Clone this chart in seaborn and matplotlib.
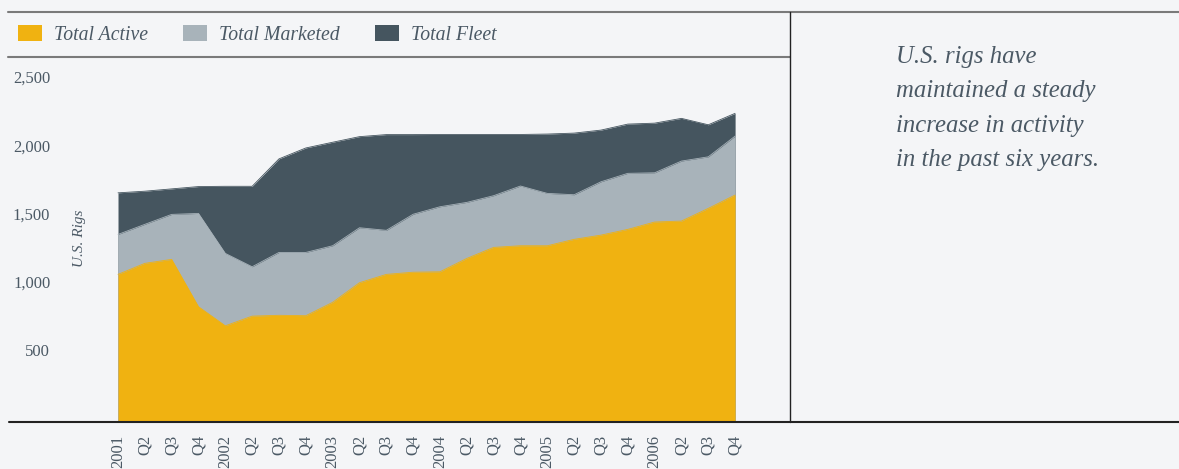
import numpy as np
import pandas as pd
import matplotlib
matplotlib.use('Agg')
import matplotlib.pyplot as plt
import matplotlib.transforms as mtransforms
from matplotlib.lines import Line2D
from matplotlib.patches import Patch
from matplotlib.ticker import FuncFormatter
import seaborn as sns

# quarterly U.S. rig counts, 2001 Q1 .. 2006 Q4
quarters = ['2001', 'Q2', 'Q3', 'Q4',
            '2002', 'Q2', 'Q3', 'Q4',
            '2003', 'Q2', 'Q3', 'Q4',
            '2004', 'Q2', 'Q3', 'Q4',
            '2005', 'Q2', 'Q3', 'Q4',
            '2006', 'Q2', 'Q3', 'Q4']
total_active = [1075, 1156, 1185, 838, 698, 769, 775, 772, 870, 1014, 1075, 1091,
                1094, 1192, 1273, 1285, 1285, 1332, 1363, 1405, 1459, 1466, 1559, 1657]
total_marketed = [1368, 1442, 1515, 1522, 1229, 1131, 1236, 1236, 1285, 1417, 1398, 1516,
                  1571, 1603, 1652, 1723, 1669, 1659, 1754, 1816, 1820, 1906, 1937, 2089]
total_fleet = [1673, 1685, 1702, 1719, 1721, 1721, 1922, 2002, 2044, 2085, 2100, 2100,
               2101, 2101, 2101, 2101, 2104, 2111, 2133, 2177, 2184, 2219, 2172, 2256]

note_lines = ['U.S. rigs have', 'maintained a steady', 'increase in activity', 'in the past six years.']

BG = '#f4f5f7'
TXT = '#4b5965'
palette = {'Total Active': '#f0b211', 'Total Marketed': '#a8b3ba', 'Total Fleet': '#45555f'}

sns.set_theme(style='white')
plt.rcParams['font.family'] = ['Liberation Serif', 'DejaVu Serif']

W, H = 1179, 469
fig = plt.figure(figsize=(W / 100, H / 100), dpi=100, facecolor=BG)
ax = fig.add_axes([60 / W, 1 - 421 / H, 730 / W, 361 / H])
ax.set_facecolor(BG)

df = pd.DataFrame({'q': np.arange(len(quarters)),
                   'Total Active': total_active,
                   'Total Marketed': total_marketed,
                   'Total Fleet': total_fleet})
long = df.melt(id_vars='q', var_name='series', value_name='rigs')

order = ['Total Fleet', 'Total Marketed', 'Total Active']
sns.lineplot(data=long, x='q', y='rigs', hue='series', hue_order=order,
             palette=palette, linewidth=0.6, legend=False, ax=ax)
for i, name in enumerate(order):
    ax.fill_between(df['q'], df[name], 0, color=palette[name], linewidth=0, zorder=1 + 2 * i)
    ax.lines[i].set_zorder(2 + 2 * i)

ax.set_xlim(-2.162, 25.046)
ax.set_ylim(0, 2647)
ax.set_xticks(df['q'])
ax.set_xticklabels(quarters, rotation=90, va='top', ha='center')
ax.set_yticks([500, 1000, 1500, 2000, 2500])
ax.yaxis.set_major_formatter(FuncFormatter(lambda v, p: f'{int(v):,}'))
ax.tick_params(axis='x', length=0, pad=10, labelsize=12, labelcolor=TXT)
ax.tick_params(axis='y', length=0, pad=7, labelsize=12, labelcolor=TXT)
shift = mtransforms.ScaledTranslation(0, 3 / 100, fig.dpi_scale_trans)
for lab in ax.get_yticklabels():
    lab.set_transform(lab.get_transform() + shift)
ax.set_xlabel('')
ax.set_ylabel('')
for s in ax.spines.values():
    s.set_visible(False)
ax.grid(False)

fig.text(80 / W, 1 - 238 / H, 'U.S. Rigs', rotation=90, ha='center', va='center',
         style='italic', fontsize=11, color=TXT)

handles = [Patch(facecolor=palette[n], edgecolor='none', label=n)
           for n in ['Total Active', 'Total Marketed', 'Total Fleet']]
leg = fig.legend(handles=handles, loc='center left', bbox_to_anchor=(18 / W, 1 - 35 / H),
                 ncol=3, frameon=False, borderpad=0, borderaxespad=0,
                 handlelength=1.23, handleheight=0.82, handletextpad=0.62,
                 columnspacing=1.75, prop={'style': 'italic', 'size': 14.2})
for t in leg.get_texts():
    t.set_color(TXT)

for k, line in enumerate(note_lines):
    fig.text(896 / W, 1 - (62.7 + 34.5 * k) / H, line, ha='left', va='baseline',
             style='italic', fontsize=17.8, color=TXT)

# frame rules
fig.add_artist(Line2D([8 / W, 1], [1 - 12 / H] * 2, transform=fig.transFigure, color='#7a7a7a', lw=1.5))
fig.add_artist(Line2D([8 / W, 790 / W], [1 - 57 / H] * 2, transform=fig.transFigure, color='#7a7a7a', lw=1.5))
fig.add_artist(Line2D([790 / W] * 2, [1 - 12 / H, 1 - 422 / H], transform=fig.transFigure, color='#222222', lw=1))
fig.add_artist(Line2D([9 / W, 1], [1 - 422 / H] * 2, transform=fig.transFigure, color='#222222', lw=1.5))

fig.savefig('out.png', dpi=100, facecolor=BG)
